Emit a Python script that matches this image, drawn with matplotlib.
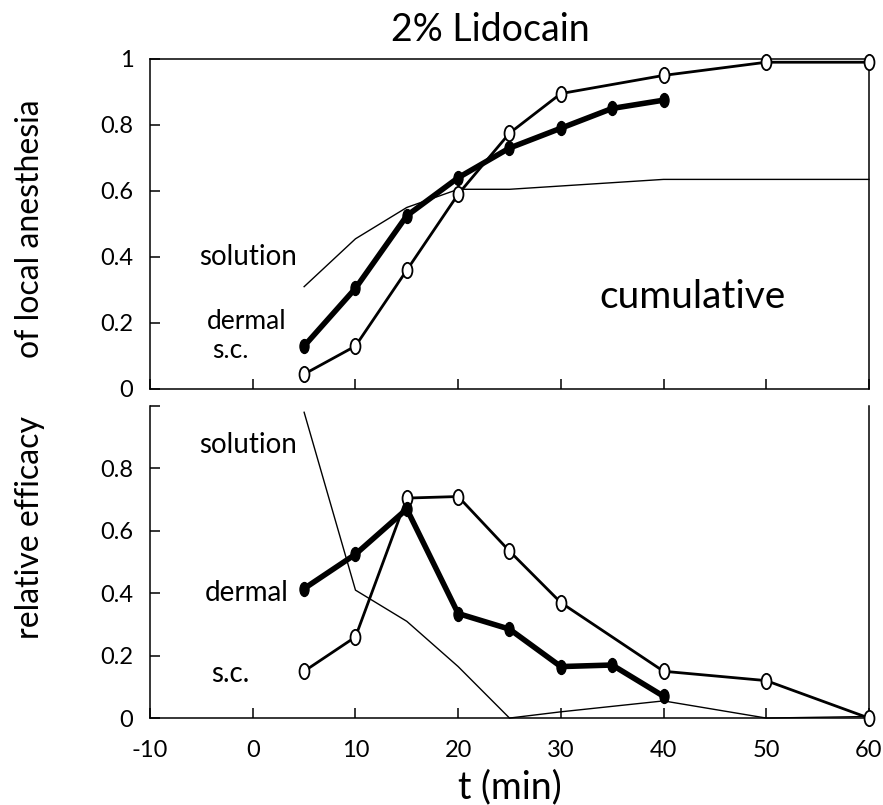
import numpy as np
import matplotlib.pyplot as plt
from matplotlib.path import Path
from matplotlib.transforms import Affine2D

# time points (min)
t_sol = [5, 10, 15, 20, 25, 30, 40, 50, 60]
t_derm = [5, 10, 15, 20, 25, 30, 35, 40]
t_sc = [5, 10, 15, 20, 25, 30, 40, 50, 60]

# cumulative (top panel)
cum_sol = [0.31, 0.455, 0.55, 0.605, 0.605, 0.615, 0.635, 0.635, 0.635]
cum_derm = [0.13, 0.305, 0.525, 0.64, 0.73, 0.79, 0.85, 0.875]
cum_sc = [0.045, 0.13, 0.36, 0.59, 0.775, 0.895, 0.95, 0.99, 0.99]

# relative efficacy per interval (bottom panel)
rel_sol = [0.98, 0.41, 0.31, 0.165, 0.0, 0.02, 0.055, 0.0, 0.005]
rel_derm = [0.415, 0.525, 0.67, 0.335, 0.285, 0.165, 0.17, 0.07]
rel_sc = [0.15, 0.26, 0.705, 0.71, 0.535, 0.37, 0.15, 0.12, 0.0]

xticks = [-10, 0, 10, 20, 30, 40, 50, 60]

plt.rcParams['font.family'] = ['Lato', 'DejaVu Sans']

# tall oval marker like the "0" symbols of the original plot
oval = Path.unit_circle().transformed(Affine2D().scale(0.65, 1.0))

fig = plt.figure(figsize=(8.83, 8.05), dpi=100)
ax1 = fig.add_axes([0.170, 0.5168, 0.814, 0.41])
ax2 = fig.add_axes([0.170, 0.108, 0.814, 0.3876])


def draw(ax, sol, derm, sc):
    ax.plot(t_sol, sol, color='black', lw=1.0, clip_on=False)
    ax.plot(t_sc, sc, color='black', lw=2.0, marker=oval, ms=11,
            mfc='white', mec='black', mew=1.3, clip_on=False, zorder=3)
    ax.plot(t_derm, derm, color='black', lw=4.0, marker=oval, ms=10,
            mfc='black', mec='black', clip_on=False, zorder=4)
    ax.set_xlim(-10, 60)
    ax.set_xticks(xticks)
    ax.tick_params(direction='in', length=7, width=1.1, labelsize=17,
                   colors='black')
    ax.tick_params(axis='y', pad=12)
    ax.tick_params(axis='x', pad=16)
    for s in ax.spines.values():
        s.set_linewidth(1.1)


draw(ax1, cum_sol, cum_derm, cum_sc)
ax1.set_ylim(0, 1)
ax1.set_yticks([0, 0.2, 0.4, 0.6, 0.8, 1])
ax1.set_yticklabels(['0', '0.2', '0.4', '0.6', '0.8', '1'])
ax1.set_xticklabels([])
ax1.text(-0.5, 0.40, 'solution', fontsize=20, ha='center', va='center')
ax1.text(-0.6, 0.205, 'dermal', fontsize=19, ha='center', va='center')
ax1.text(-2.2, 0.118, 's.c.', fontsize=19, ha='center', va='center')
ax1.text(42.8, 0.28, 'cumulative', fontsize=28, ha='center', va='center')

draw(ax2, rel_sol, rel_derm, rel_sc)
ax2.set_ylim(0, 1)
ax2.set_yticks([0, 0.2, 0.4, 0.6, 0.8, 1])
ax2.set_yticklabels(['0', '0.2', '0.4', '0.6', '0.8', ''])
ax2.spines['top'].set_visible(False)
ax2.set_xticklabels([str(v) for v in xticks])
ax2.set_xlabel('t (min)', fontsize=27, labelpad=6)
ax2.text(-0.5, 0.875, 'solution', fontsize=20, ha='center', va='center')
ax2.text(-0.6, 0.40, 'dermal', fontsize=20, ha='center', va='center')
ax2.text(-2.2, 0.14, 's.c.', fontsize=20, ha='center', va='center')

fig.text(0.555, 0.963, '2% Lidocain', fontsize=27, ha='center', va='center')
fig.text(0.034, 0.716, 'of local anesthesia', fontsize=23,
         rotation=90, ha='center', va='center')
fig.text(0.034, 0.345, 'relative efficacy', fontsize=23,
         rotation=90, ha='center', va='center')

fig.savefig('out.png', dpi=100)
